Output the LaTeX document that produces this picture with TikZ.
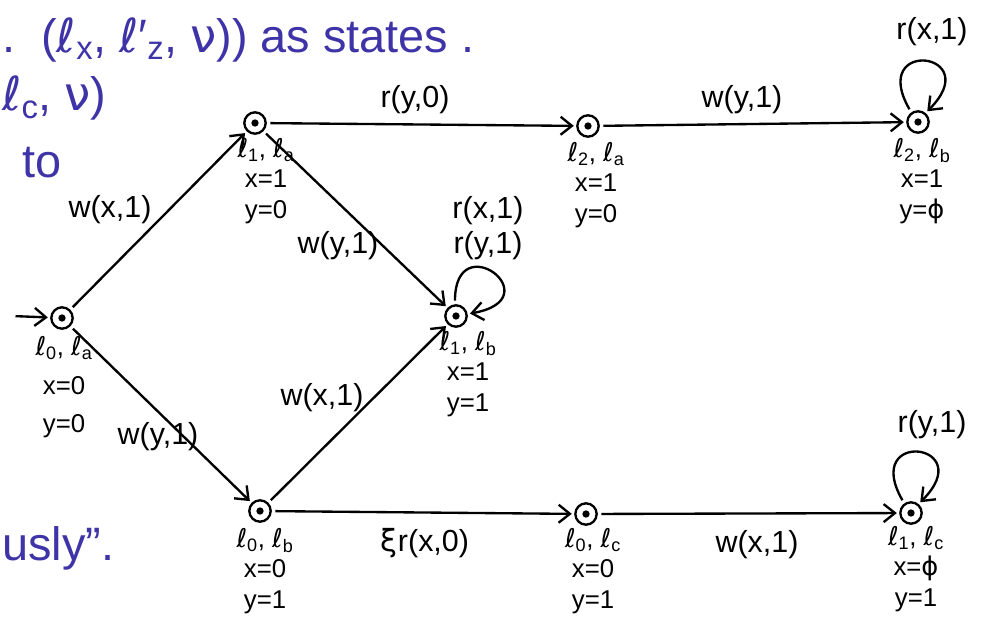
\documentclass[tikz,border=0pt]{standalone}
\usepackage{fontspec}
\setmainfont{Liberation Sans}
\newfontfamily\dv{DejaVu Sans}
\usetikzlibrary{arrows.meta,positioning}
\definecolor{handblue}{RGB}{62,52,168}
\newcommand{\ellsym}{{\dv ℓ}}
\newcommand{\locs}[2]{\ellsym\textsubscript{#1}, \ellsym\textsubscript{#2}}
\tikzset{
  state/.style={circle, draw, line width=2pt, minimum size=0.64cm, inner sep=0pt,
    path picture={\fill (path picture bounding box.center) circle (0.11cm);}},
  edge/.style={line width=2pt, shorten <=3pt, shorten >=2pt,
    -{Straight Barb[length=3.4mm,width=5.4mm,line width=2pt]}},
  elab/.style={font=\fontsize{26}{28}\selectfont, inner sep=1pt},
  slab/.style={font=\fontsize{22}{26}\selectfont, align=center, inner sep=0pt, anchor=north},
  blue/.style={text=handblue, font=\fontsize{40}{44}\selectfont, inner sep=0pt, anchor=west}
}
\begin{document}
\begin{tikzpicture}[x=0.03cm, y=-0.03cm]
\useasboundingbox (0,0) rectangle (993,625);
% blue fragments
\node[blue] (t1) at (2,40) {.\ \ (\ellsym\textsubscript{x}, \ellsym′\textsubscript{z}, {\dv ν})) as states .};
\node[blue] (t2) at (2,98) {\ellsym\textsubscript{c}, {\dv ν})};
\node[blue] (t3) at (22,163) {to};
\node[blue] (t4) at (2,548) {usly”.};
% states
\node[state] (q0) at (62,318) {};
\node[state] (q1) at (255,123) {};
\node[state] (q2) at (588,126) {};
\node[state] (q3) at (918,122) {};
\node[state] (q4) at (456,316) {};
\node[state] (q5) at (260,511) {};
\node[state] (q6) at (586,514) {};
\node[state] (q7) at (911,513) {};
% state labels
\node[slab, font=\fontsize{22}{33}\selectfont] (l0) at (64,336) {\locs{0}{a}\\x=0\\y=0};
\node[slab] (l1) at (266,138) {\locs{1}{a}\\x=1\\y=0};
\node[slab] (l2) at (596,142) {\locs{2}{a}\\x=1\\y=0};
\node[slab] (l3) at (922,138) {\locs{2}{b}\\x=1\\y={\dv ɸ}};
\node[slab] (l4) at (468,331) {\locs{1}{b}\\x=1\\y=1};
\node[slab] (l5) at (265,528) {\locs{0}{b}\\x=0\\y=1};
\node[slab] (l6) at (593,528) {\locs{0}{c}\\x=0\\y=1};
\node[slab] (l7) at (916,526) {\locs{1}{c}\\x={\dv ɸ}\\y=1};
% initial arrow
\coordinate (init) at (12,316);
\draw[edge] (init) -- (q0);
% edges
\draw[edge] (q0) -- (q1);
\draw[edge] (q1) -- (q4);
\draw[edge] (q1) -- (q2);
\draw[edge] (q2) -- (q3);
\draw[edge] (q0) -- (q5);
\draw[edge] (q5) -- (q4);
\draw[edge] (q5) -- (q6);
\draw[edge] (q6) -- (q7);
% loops
\draw[edge] (q3.125) .. controls +(120:2.6cm) and +(45:2.6cm) .. (q3.50);
\draw[edge] (q7.125) .. controls +(120:2.6cm) and +(45:2.6cm) .. (q7.50);
\draw[edge] (q4.95) .. controls +(90:2.4cm) and +(10:2.6cm) .. (q4.10);
% edge labels
\node[elab] (e01) at (110,210) {w(x,1)};
\node[elab] (e14) at (338,246) {w(y,1)};
\node[elab] (e12) at (415,100) {r(y,0)};
\node[elab] (e23) at (742,100) {w(y,1)};
\node[elab] (e05) at (158,437) {w(y,1)};
\node[elab] (e54) at (322,398) {w(x,1)};
\node[elab] (e56) at (425,543) {{\dv ξ}r(x,0)};
\node[elab] (e67) at (757,545) {w(x,1)};
\node[elab] (e33) at (932,32) {r(x,1)};
\node[elab, align=center, font=\fontsize{26}{30}\selectfont] (e44) at (488,228) {r(x,1)\\r(y,1)};
\node[elab] (e77) at (932,425) {r(y,1)};
\end{tikzpicture}
\end{document}
